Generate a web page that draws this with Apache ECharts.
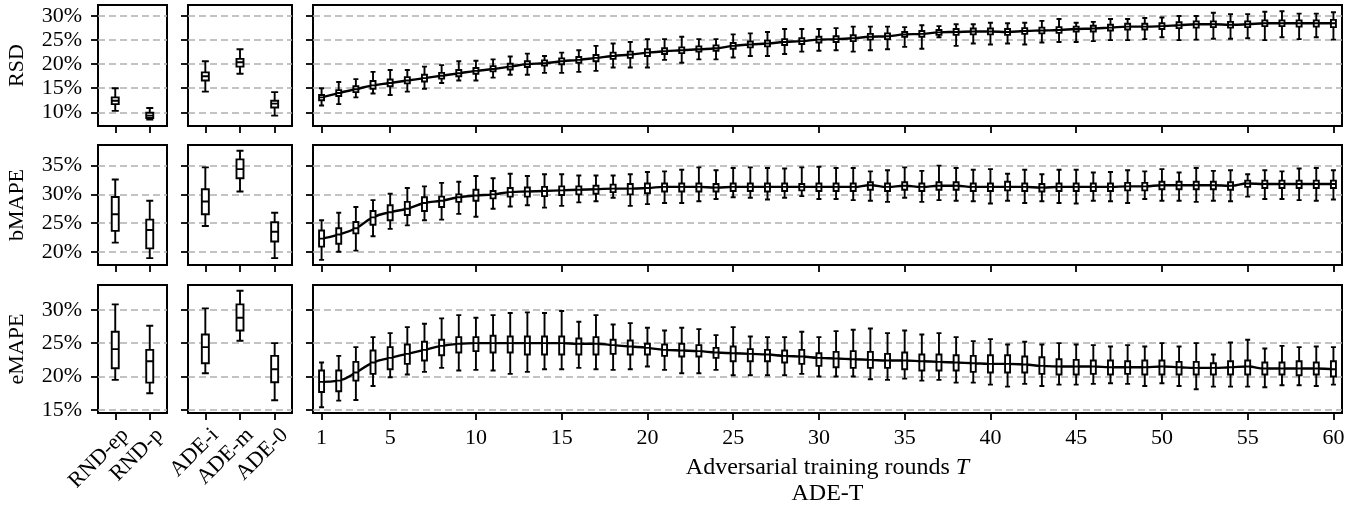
<!DOCTYPE html>
<html><head><meta charset="utf-8">
<script src="https://cdn.jsdelivr.net/npm/echarts@6/dist/echarts.min.js"></script>
<style>html,body{margin:0;padding:0;background:#fff}#c{width:1358px;height:508px}</style>
</head><body><div id="c"></div>
<script>
// ---------- categories / tick labels ----------
const rndCats = ['RND-ep', 'RND-p'];
const adeCats = ['ADE-i', 'ADE-m', 'ADE-0'];
const roundCats = ['1','2','3','4','5','6','7','8','9','10','11','12','13','14','15','16','17','18','19','20',
  '21','22','23','24','25','26','27','28','29','30','31','32','33','34','35','36','37','38','39','40',
  '41','42','43','44','45','46','47','48','49','50','51','52','53','54','55','56','57','58','59','60'];
const roundTickLabels = ['1','5','10','15','20','25','30','35','40','45','50','55','60'];
const metricNames = ['RSD', 'bMAPE', 'eMAPE'];
const rsdTicks = [10, 15, 20, 25, 30];
const bTicks = [20, 25, 30, 35];
const eTicks = [15, 20, 25, 30];

// ---------- box data: [min, Q1, median, Q3, max] (percent) ----------
const rsdRnd = [[10.3, 11.7, 12.4, 13.1, 15.0], [8.5, 8.8, 9.3, 9.9, 10.9]];
const rsdAde = [[14.3, 16.6, 17.5, 18.3, 20.6], [18.0, 19.5, 20.4, 21.1, 23.1], [9.3, 11.0, 11.8, 12.4, 14.2]];
const rsdRounds = [
[11.4,12.5,13.1,13.6,15.0],[11.7,13.4,14.0,14.6,16.3],[13.1,14.2,14.8,15.4,16.9],[13.9,14.9,15.6,16.5,18.4],[13.6,15.4,16.1,16.8,18.8],
[14.3,16.0,16.6,17.3,18.8],[14.9,16.4,17.1,17.8,19.5],[16.1,17.0,17.6,18.2,19.8],[16.6,17.5,18.1,18.8,20.6],[16.6,18.0,18.6,19.2,20.7],
[17.2,18.5,19.0,19.6,21.0],[17.8,18.9,19.5,20.1,21.6],[17.8,19.4,20.0,20.6,22.2],[18.2,19.7,20.2,20.8,21.7],[18.2,20.0,20.6,21.2,22.4],
[18.4,20.3,20.9,21.5,22.9],[18.6,20.6,21.3,21.9,23.8],[19.3,21.1,21.7,22.4,24.3],[19.3,21.3,22.0,22.6,24.6],[19.3,21.7,22.4,23.1,25.2],
[20.9,22.1,22.7,23.3,25.2],[20.3,22.3,22.9,23.5,25.7],[21.0,22.6,23.1,23.7,25.2],[21.0,22.8,23.3,23.9,25.2],[21.4,23.2,23.8,24.4,26.2],
[21.7,23.5,24.1,24.7,26.4],[21.7,23.7,24.3,24.9,26.7],[22.1,24.0,24.6,25.2,27.3],[22.6,24.2,24.8,25.4,27.3],[22.8,24.5,25.1,25.7,27.3],
[22.9,24.6,25.2,25.8,27.5],[22.6,24.8,25.4,26.0,27.8],[22.9,25.1,25.7,26.3,27.8],[23.1,25.2,25.8,26.4,27.8],[23.6,25.7,26.2,26.7,27.7],
[23.2,25.7,26.3,26.9,28.1],[25.6,26.1,26.6,27.1,27.9],[23.8,26.1,26.7,27.3,28.3],[24.3,26.2,26.8,27.4,28.3],[24.1,26.2,26.8,27.4,28.6],
[24.3,26.1,26.7,27.3,28.5],[24.1,26.3,26.9,27.5,28.6],[24.5,26.4,27.0,27.6,29.0],[24.6,26.5,27.1,27.7,29.4],[24.6,26.8,27.3,27.8,28.6],
[24.8,26.8,27.4,28.0,28.8],[25.0,27.0,27.6,28.2,29.4],[25.0,27.2,27.8,28.4,29.4],[25.2,27.2,27.8,28.4,29.6],[25.6,27.3,27.9,28.5,29.7],
[25.0,27.5,28.1,28.7,30.0],[25.1,27.6,28.3,28.9,30.0],[25.3,27.7,28.3,28.9,30.7],[25.3,27.6,28.2,28.8,30.4],[25.4,27.7,28.3,28.9,30.4],
[25.0,27.9,28.5,29.1,30.9],[25.6,27.9,28.5,29.1,31.0],[25.2,27.8,28.5,29.1,30.5],[25.6,27.8,28.5,29.1,30.5],[25.1,27.7,28.5,29.2,30.8]
];

const bRnd = [[21.6, 23.65, 26.55, 29.55, 32.6], [18.9, 20.6, 23.8, 25.6, 28.9]];
const bAde = [[24.5, 26.55, 28.75, 30.9, 34.7], [30.5, 32.8, 34.4, 36.1, 37.6], [18.9, 21.8, 23.5, 25.15, 26.8]];
const bRounds = [
[18.6,20.9,22.3,23.7,25.5],[20.0,21.4,23.0,24.1,26.8],[20.2,23.2,24.1,25.2,27.8],[22.7,24.7,26.0,27.1,29.0],[24.0,25.5,26.9,28.1,30.1],
[24.6,26.4,27.5,28.7,31.1],[25.5,27.1,28.5,29.5,31.4],[25.6,27.8,28.9,29.6,32.0],[26.6,28.7,29.5,30.0,32.2],[26.1,28.9,29.8,30.8,33.2],
[27.5,29.3,30.0,30.6,32.8],[27.9,29.6,30.4,31.1,33.6],[28.1,29.6,30.5,31.2,33.2],[27.7,29.7,30.6,31.3,33.5],[28.0,29.9,30.7,31.4,33.5],
[28.6,30.0,30.8,31.4,33.3],[28.8,30.1,30.9,31.5,33.3],[29.4,30.4,31.0,31.7,33.3],[28.0,30.0,31.0,31.8,33.5],[28.3,30.2,31.1,31.9,33.9],
[28.5,30.5,31.3,31.9,34.0],[28.5,30.5,31.3,31.9,34.3],[28.8,30.5,31.3,31.9,34.7],[29.2,30.5,31.2,31.8,34.2],[29.5,30.6,31.3,31.9,34.6],
[29.4,30.6,31.3,31.9,34.7],[29.1,30.5,31.3,31.9,34.6],[29.4,30.6,31.3,31.9,34.5],[29.7,30.7,31.3,31.8,34.7],[29.2,30.6,31.3,31.9,34.8],
[29.2,30.6,31.3,31.9,34.6],[29.0,30.6,31.3,31.9,34.6],[28.9,30.8,31.6,32.1,34.0],[28.7,30.6,31.3,31.9,34.2],[29.4,30.8,31.5,32.1,34.7],
[28.7,30.6,31.3,31.9,34.1],[29.0,30.8,31.5,32.1,35.0],[28.9,30.8,31.5,32.1,34.6],[28.8,30.6,31.3,31.9,34.3],[28.4,30.6,31.3,31.9,34.4],
[28.9,30.7,31.3,32.2,33.6],[28.5,30.6,31.3,31.9,34.3],[28.8,30.5,31.2,31.8,33.5],[28.5,30.6,31.3,31.9,34.3],[28.4,30.6,31.3,31.9,34.3],
[28.9,30.6,31.3,31.9,33.8],[28.8,30.6,31.3,31.9,33.9],[28.5,30.7,31.4,32.0,34.2],[29.2,30.7,31.4,32.0,34.0],[28.9,30.9,31.6,32.2,34.4],
[28.9,30.9,31.6,32.2,33.8],[28.7,30.9,31.6,32.2,34.6],[28.9,30.9,31.6,32.2,34.1],[28.8,30.8,31.5,32.1,34.2],[29.6,31.3,31.9,32.4,33.5],
[29.2,31.1,31.8,32.4,34.2],[29.2,31.1,31.8,32.4,34.0],[29.0,31.1,31.8,32.4,34.5],[28.9,31.1,31.8,32.4,34.6],[29.1,31.1,31.8,32.4,34.2]
];

const eRnd = [[19.5, 21.25, 24.1, 26.7, 30.8], [17.5, 19.1, 22.3, 24.0, 27.6]];
const eAde = [[20.5, 22.0, 24.4, 26.3, 30.2], [25.35, 26.9, 28.8, 30.8, 32.85], [16.45, 19.15, 21.1, 23.1, 25.0]];
const eRounds = [
[15.4,17.7,19.2,20.9,22.1],[16.4,17.8,19.4,20.9,23.1],[16.5,19.4,20.6,22.2,24.4],[18.6,20.4,22.1,23.9,25.9],[19.9,21.1,22.8,24.4,26.5],
[20.3,21.9,23.4,24.8,27.4],[20.7,22.4,24.0,25.2,27.9],[21.3,23.2,24.6,25.5,28.7],[20.9,23.6,24.9,25.9,29.2],[21.0,23.8,25.0,25.9,28.8],
[20.9,23.6,25.0,26.1,29.2],[20.4,23.6,25.0,26.0,29.5],[20.7,23.3,25.0,26.0,29.6],[21.1,23.3,25.0,26.0,29.5],[21.1,23.3,25.0,26.0,29.8],
[21.3,23.3,24.9,25.7,28.2],[21.1,23.3,24.9,25.9,29.2],[21.0,23.4,24.7,25.5,27.8],[21.1,23.3,24.5,25.4,28.0],[21.5,23.3,24.3,24.9,27.3],
[21.0,23.1,24.0,24.8,26.9],[20.5,23.0,23.9,24.9,27.3],[20.5,23.0,23.8,24.7,27.1],[21.0,22.8,23.6,24.3,26.2],[20.2,22.3,23.5,24.5,27.4],
[20.2,22.3,23.4,24.1,26.0],[20.2,22.3,23.3,24.0,25.9],[20.2,22.1,23.1,23.9,25.9],[20.4,21.9,23.0,24.0,26.7],[20.0,21.6,22.8,23.5,25.9],
[20.0,21.4,22.7,23.7,26.8],[20.0,21.3,22.6,23.8,27.0],[19.6,21.3,22.5,23.7,27.2],[19.5,21.3,22.4,23.4,26.5],[19.7,21.1,22.4,23.6,26.9],
[19.4,20.9,22.3,23.3,26.3],[19.5,20.9,22.2,23.3,26.5],[19.1,20.9,22.1,23.2,25.9],[19.1,20.7,22.0,23.1,25.3],[18.8,20.6,21.9,23.2,25.6],
[18.5,20.6,21.9,23.2,24.8],[18.9,20.6,21.8,23.0,25.2],[18.6,20.4,21.6,22.9,24.8],[18.8,20.3,21.5,22.6,25.0],[18.8,20.3,21.5,22.5,24.8],
[18.9,20.4,21.5,22.4,24.7],[19.0,20.3,21.4,22.4,24.5],[18.9,20.4,21.4,22.3,24.7],[18.6,20.3,21.4,22.4,24.5],[19.0,20.3,21.5,22.4,25.0],
[18.6,20.3,21.4,22.2,24.5],[18.1,20.3,21.3,22.2,25.0],[18.5,20.3,21.3,22.0,23.3],[18.5,20.3,21.4,22.3,25.1],[18.5,20.3,21.5,22.4,25.5],
[18.4,20.3,21.2,22.1,24.2],[18.7,20.3,21.2,22.1,24.6],[18.7,20.2,21.2,22.3,24.4],[18.6,20.3,21.2,22.1,24.5],[18.8,20.0,21.1,22.3,24.4]
];

// ---------- layout ----------
const FONT = '"Liberation Serif", "DejaVu Serif", serif';
const colLayout = [{left: 98, width: 69}, {left: 188, width: 104}, {left: 313, width: 1029}];
const rowLayout = [{top: 5, height: 121}, {top: 145, height: 120}, {top: 285, height: 128}];
const rowRange = [[7.15, 32.3], [17.7, 38.6], [14.55, 33.7]];
const rowTicks = [rsdTicks, bTicks, eTicks];
const colCats = [rndCats, adeCats, roundCats];
const boxData = [[rsdRnd, rsdAde, rsdRounds], [bRnd, bAde, bRounds], [eRnd, eAde, eRounds]];

const grids = [], xAxes = [], yAxes = [], series = [];
const tickStyle = {color: '#000', width: 1.8};
const roundTickFn = (idx, val) => roundTickLabels.indexOf(val) >= 0;

for (let r = 0; r < 3; r++) {
  for (let c = 0; c < 3; c++) {
    const gi = r * 3 + c;
    grids.push({left: colLayout[c].left, width: colLayout[c].width, top: rowLayout[r].top, height: rowLayout[r].height,
      show: true, borderColor: '#000', borderWidth: 2, backgroundColor: 'transparent', containLabel: false});
    const xLabel = {show: r === 2, interval: c === 2 ? roundTickFn : 0,
        fontFamily: FONT, fontSize: 22, color: '#000', margin: 14};
    if (c < 2) {
      xLabel.rotate = 45;
      xLabel.verticalAlign = 'top';
      xLabel.lineHeight = 28;
      xLabel.margin = 9;
    }
    const xa = {
      type: 'category', gridIndex: gi, data: colCats[c], boundaryGap: true,
      axisLine: {show: false},
      axisTick: {show: true, alignWithLabel: true, length: 7, lineStyle: tickStyle, interval: c === 2 ? roundTickFn : 0},
      axisLabel: xLabel,
      splitLine: {show: false}
    };
    if (r === 2 && c === 2) {
      xa.name = 'Adversarial training rounds {it|T}\nADE-T';
      xa.nameLocation = 'middle';
      xa.nameGap = 42;
      xa.nameTextStyle = {fontFamily: FONT, fontSize: 24, color: '#000', lineHeight: 26,
        rich: {it: {fontFamily: FONT, fontSize: 24, fontStyle: 'italic', color: '#000'}}};
    }
    xAxes.push(xa);
    const ya = {
      type: 'value', gridIndex: gi, min: rowRange[r][0], max: rowRange[r][1],
      minInterval: 5, maxInterval: 5,
      axisLine: {show: false},
      axisTick: {show: true, length: 7, lineStyle: tickStyle, customValues: rowTicks[r]},
      axisLabel: {show: c === 0, customValues: rowTicks[r], formatter: '{value}%', fontFamily: FONT, fontSize: 22, color: '#000', margin: 16},
      splitLine: {show: true, lineStyle: {type: [7, 4], color: '#b0b0b0', width: 1.5}}
    };
    if (c === 0) {
      ya.name = metricNames[r];
      ya.nameLocation = 'middle';
      ya.nameGap = 70;
      ya.nameTextStyle = {fontFamily: FONT, fontSize: 22, color: '#000'};
    }
    yAxes.push(ya);
    const bw = c === 2 ? 5 : 7;
    series.push({
      type: 'boxplot', xAxisIndex: gi, yAxisIndex: gi, data: boxData[r][c],
      boxWidth: [bw, bw], z: 3, silent: true,
      itemStyle: {color: '#fff', borderColor: '#000', borderWidth: 1.9},
      emphasis: {disabled: true}
    });
    if (c === 2) {
      series.push({
        type: 'line', xAxisIndex: gi, yAxisIndex: gi, data: boxData[r][c].map(b => b[2]),
        smooth: 0.5, symbol: 'none', z: 2, silent: true,
        lineStyle: {color: '#000', width: 2.4}
      });
    }
  }
}

const chart = echarts.init(document.getElementById('c'), null, {renderer: 'canvas'});
chart.setOption({animation: false, backgroundColor: '#fff', grid: grids, xAxis: xAxes, yAxis: yAxes, series: series});
</script></body></html>
